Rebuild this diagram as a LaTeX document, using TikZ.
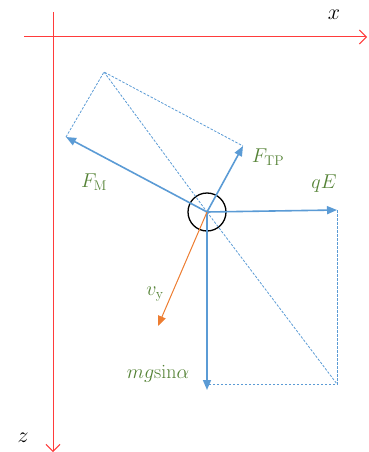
\documentclass[tikz,border=0pt]{standalone}
\usepackage{fix-cm}
\usepackage{amsmath, amssymb}
\usepackage{xcolor}
\usepackage{tikz}
\usetikzlibrary{positioning,arrows.meta}

\definecolor{forceblue}{HTML}{5B9BD5}
\definecolor{veloorange}{HTML}{ED7D31}
\definecolor{labelgreen}{HTML}{548235}
\definecolor{axisred}{HTML}{FF3B3B}

\begin{document}
\begin{tikzpicture}[
    x=1pt, y=-1pt,
    axis/.style={draw=axisred, line width=1pt, -{Straight Barb[length=7pt, width=14pt]}},
    force/.style={draw=forceblue, line width=1.6pt, -{Triangle[length=10pt, width=8pt]}},
    helper/.style={draw=forceblue, line width=0.8pt, dash pattern=on 2.5pt off 1.5pt},
    velo/.style={draw=veloorange, line width=1pt, -{Triangle[length=10pt, width=8pt]}},
    lbl/.style={text=labelgreen, font=\fontsize{20}{24}\selectfont},
    axlbl/.style={font=\fontsize{22}{24}\selectfont}
]
    \useasboundingbox (0,0) rectangle (368,452);

    % Axes
    \coordinate (xstart) at (24,37);
    \coordinate (xend) at (367,37);
    \coordinate (zstart) at (53,12);
    \coordinate (zend) at (53,452);
    \draw[axis] (xstart) -- (xend);
    \draw[axis] (zstart) -- (zend);
    \node[axlbl] (xlabel) at (334,15) {$x$};
    \node[axlbl] (zlabel) at (23,438) {$z$};

    % Ball
    \coordinate (O) at (207,212);
    \node[circle, draw, line width=1.3pt, minimum size=38pt, inner sep=0pt] (ball) at (O) {};
    \fill (O) circle (1.5pt);

    % Force tips
    \coordinate (qE) at (337,210);
    \coordinate (mg) at (207,390);
    \coordinate (FM) at (66,137);
    \coordinate (FTP) at (243,146);
    \coordinate (top) at (104,72);
    \coordinate (corner) at (337,384);
    \coordinate (mgfoot) at (207,384);
    \coordinate (vy) at (158,326);

    % Parallelograms
    \draw[helper] (FM) -- (top) -- (FTP);
    \draw[helper] (top) -- (O);
    \draw[helper] (qE) -- (corner) -- (mgfoot);
    \draw[helper] (O) -- (corner);

    % Forces
    \draw[force] (O) -- (FM);
    \draw[force] (O) -- (FTP);
    \draw[force] (O) -- (qE);
    \draw[force] (O) -- (mg);
    \draw[velo] (O) -- (vy);

    % Labels
    \node[lbl] (fmlabel) at (94,182) {$F_{\mathrm{M}}$};
    \node[lbl] (ftplabel) at (268,157) {$F_{\mathrm{TP}}$};
    \node[lbl] (qelabel) at (324,184) {$qE$};
    \node[lbl] (vylabel) at (155,294) {$v_{\mathrm{y}}$};
    \node[lbl] (mglabel) at (158,374) {$mg\mathrm{sin}\alpha$};
\end{tikzpicture}
\end{document}
